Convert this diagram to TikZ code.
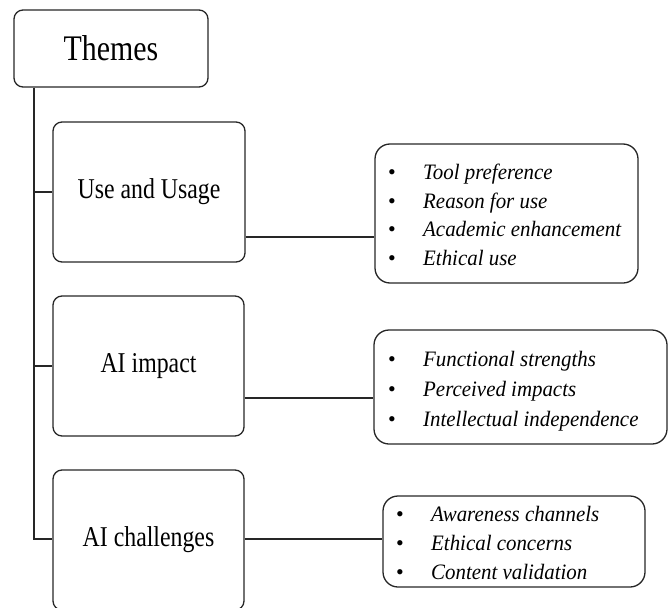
\documentclass[tikz,border=0pt]{standalone}
\usepackage{fontspec}
\usepackage{graphicx}
\setmainfont{Liberation Serif}
\usetikzlibrary{calc}

% condensed heading text
\newcommand{\ttl}[2]{\scalebox{0.83}[1]{\fontsize{#1}{#1}\selectfont #2}}
% one bullet line of a list
\newcommand{\blt}[1]{\makebox[35pt][l]{\textbullet}\scalebox{0.95}[1]{\itshape #1}}

\tikzset{
  frame/.style={draw=black!85, line width=1.3pt},
  theme/.style={frame, rounded corners=9pt, inner sep=0pt, align=center},
  listbox/.style={frame, rounded corners=15pt, inner sep=0pt},
  listtext/.style={anchor=west, inner sep=0pt, align=left},
  link/.style={draw=black!85, line width=1.2pt}
}

\begin{document}
\begin{tikzpicture}[x=1pt, y=-1pt]
  \useasboundingbox (0,0) rectangle (668,607);

  % main heading and theme boxes
  \node[theme, minimum width=194pt, minimum height=77pt] (themes) at (111,48.5) {\ttl{36}{Themes}};
  \node[theme, minimum width=192pt, minimum height=140pt] (use) at (149,192) {\ttl{28.7}{Use and Usage}};
  \node[theme, minimum width=191pt, minimum height=140pt] (impact) at (148.5,366) {\ttl{28.7}{AI impact}};
  \node[theme, minimum width=191pt, minimum height=140pt] (chall) at (148.5,540) {\ttl{28.7}{AI challenges}};

  % sub-theme boxes
  \node[listbox, minimum width=263pt, minimum height=139pt] (b1) at (506.5,213.5) {};
  \node[listbox, minimum width=293pt, minimum height=114pt] (b2) at (520.5,387) {};
  \node[listbox, minimum width=262pt, minimum height=91pt] (b3) at (514,541.5) {};

  \node[listtext, font=\fontsize{22}{28.7}\selectfont] (t1) at (388,215)
    {\blt{Tool preference}\\ \blt{Reason for use}\\ \blt{Academic enhancement}\\ \blt{Ethical use}};
  \node[listtext, font=\fontsize{22}{30}\selectfont] (t2) at (388,391)
    {\blt{Functional strengths}\\ \blt{Perceived impacts}\\ \blt{Intellectual independence}};
  \node[listtext, font=\fontsize{22}{29}\selectfont] (t3) at (396,543)
    {\blt{Awareness channels}\\ \blt{Ethical concerns}\\ \blt{Content validation}};

  % tree trunk and branches
  \coordinate (trunk) at (34,0);
  \coordinate (k3) at (0,539);
  \draw[link] (trunk |- themes.south) |- (chall.west |- k3);
  \draw[link] (trunk |- use.west) -- (use.west);
  \draw[link] (trunk |- impact.west) -- (impact.west);

  % links to the sub-theme boxes
  \coordinate (k1) at (310,237);
  \coordinate (k2) at (310,398);
  \draw[link] (use.east |- k1) -- (b1.west |- k1);
  \draw[link] (impact.east |- k2) -- (b2.west |- k2);
  \draw[link] (chall.east |- k3) -- (b3.west |- k3);
\end{tikzpicture}
\end{document}
